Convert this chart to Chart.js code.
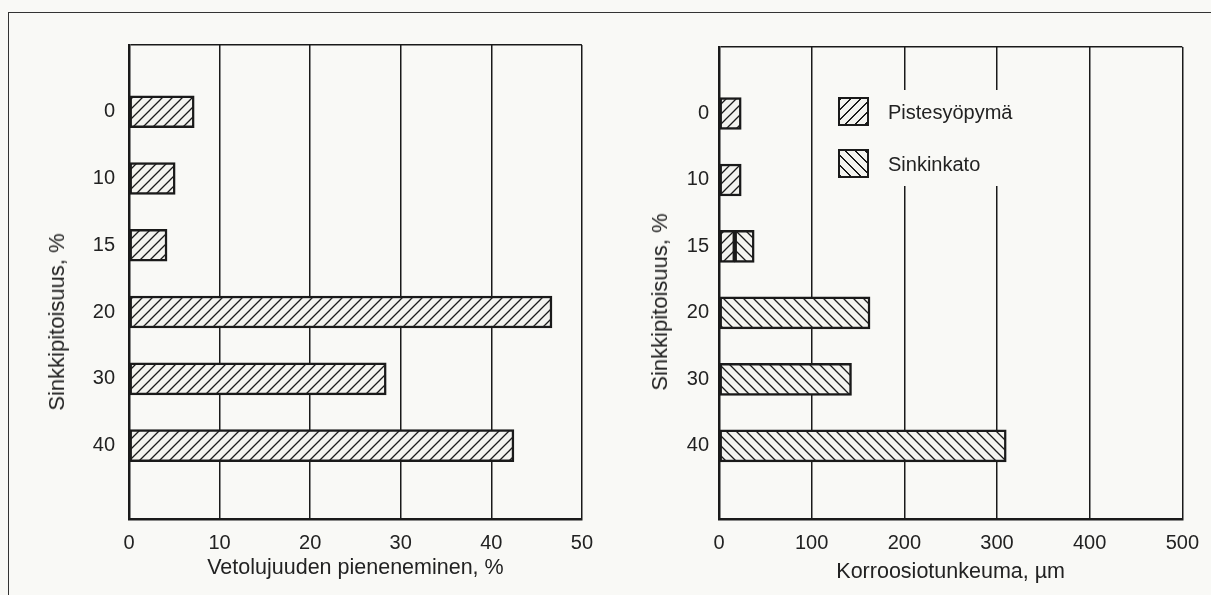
<!DOCTYPE html>
<html>
<head>
<meta charset="utf-8">
<script src="https://cdn.jsdelivr.net/npm/chart.js@4/dist/chart.umd.min.js"></script>
<style>
	html, body { margin: 0; padding: 0; background: #f9f9f6; }
	body { width: 1211px; height: 595px; position: relative; overflow: hidden;
		font-family: "Liberation Sans", Arial, Helvetica, sans-serif; color: #222; }
	#frame { position: absolute; left: 8px; top: 12px; width: 1210px; height: 600px;
		border-top: 1.5px solid #333; border-left: 1.5px solid #333; }
	#left_box { position: absolute; left: 0; top: 0; }
	#right_box { position: absolute; left: 605px; top: 0; }
	.ytitle { position: absolute; font-size: 22px; white-space: nowrap;
		transform: translate(-50%, -50%) rotate(-90deg); }
	#legend { position: absolute; left: 823px; top: 90px; width: 176px; height: 96px; background: #f9f9f6; }
	.lg_item { position: absolute; left: 15px; height: 30px; font-size: 20px; line-height: 30px; }
	.lg_box { position: absolute; left: 0; top: 0; width: 27px; height: 25px; border: 2.5px solid #1a1a1a; }
	.lg_text { position: absolute; left: 50px; top: 0; white-space: nowrap; }
</style>
</head>
<body>
<div id="frame"></div>
<div id="left_box"><canvas id="strength_chart" width="605" height="595"></canvas></div>
<div id="right_box"><canvas id="corrosion_chart" width="606" height="595"></canvas></div>
<div class="ytitle" style="left:57px; top:322px;">Sinkkipitoisuus, %</div>
<div class="ytitle" style="left:660px; top:302px;">Sinkkipitoisuus, %</div>
<div id="legend"></div>

<script>
// zinc content categories (top to bottom)
var categories = ['0', '10', '15', '20', '30', '40'];

// left: loss of tensile strength, %
var strength_loss = [7.2, 5.1, 4.2, 46.7, 28.4, 42.5];

// right: corrosion depth, um
var series_names = ['Pistesyöpymä', 'Sinkinkato'];
var pitting = [24, 24, 17, null, null, null];
var zinc_loss = [null, null, 21, 163, 143, 310];

var left_ticks = [0, 10, 20, 30, 40, 50];
var right_ticks = [0, 100, 200, 300, 400, 500];

var ink = '#1a1a1a';
var paper = '#f3f3ef';
var font_family = '"Liberation Sans", Arial, Helvetica, sans-serif';

function hatch(dir){
	var s = 10;
	var c = document.createElement('canvas');
	c.width = s; c.height = s;
	var g = c.getContext('2d');
	g.fillStyle = paper;
	g.fillRect(0, 0, s, s);
	g.strokeStyle = ink;
	g.lineWidth = 1.3;
	g.beginPath();
	if (dir == '/') {
		g.moveTo(0, s); g.lineTo(s, 0);
		g.moveTo(-1, 1); g.lineTo(1, -1);
		g.moveTo(s - 1, s + 1); g.lineTo(s + 1, s - 1);
	} else {
		g.moveTo(0, 0); g.lineTo(s, s);
		g.moveTo(s - 1, -1); g.lineTo(s + 1, 1);
		g.moveTo(-1, s - 1); g.lineTo(1, s + 1);
	}
	g.stroke();
	return g.createPattern(c, 'repeat');
}

function points(values){
	var out = [];
	values.forEach(function(v, i){
		if (v !== null) out.push({x: v, y: i + 1});
	});
	return out;
}

function make_options(max_x, tick_list, title, pad){
	return {
		indexAxis: 'y',
		responsive: false,
		animation: false,
		layout: { padding: { top: pad.top, right: pad.right, left: 0, bottom: 0 } },
		plugins: { legend: { display: false }, tooltip: { enabled: false } },
		scales: {
			x: {
				type: 'linear',
				min: 0,
				max: max_x,
				stacked: true,
				afterBuildTicks: function(scale){
					scale.ticks = tick_list.map(function(v){ return {value: v}; });
				},
				afterFit: function(scale){ scale.height = 76; },
				ticks: { padding: 12, color: '#222', font: { family: font_family, size: 20 } },
				grid: { color: ink, lineWidth: 1.5, drawTicks: false },
				border: { display: true, color: ink, width: 2.5 },
				title: {
					display: true,
					text: title,
					color: '#222',
					font: { family: font_family, size: 21.5 },
					padding: { top: 0, bottom: pad.title }
				}
			},
			y: {
				type: 'linear',
				reverse: true,
				offset: false,
				min: 0,
				max: 7.1,
				stacked: true,
				afterBuildTicks: function(scale){
					var t = [{value: 0}];
					categories.forEach(function(c, i){ t.push({value: i + 1}); });
					scale.ticks = t;
				},
				afterFit: function(scale){ scale.width = pad.left; },
				ticks: {
					padding: pad.ytick,
					color: '#222',
					font: { family: font_family, size: 20 },
					callback: function(v){ return v > 0 ? categories[v - 1] : ''; }
				},
				grid: {
					offset: false,
					drawTicks: false,
					lineWidth: 1.5,
					color: function(ctx){
						return (ctx.tick && ctx.tick.value === 0) ? ink : 'rgba(0,0,0,0)';
					}
				},
				border: { display: true, color: ink, width: 2.5 }
			}
		}
	};
}

function load_strength_chart(){
	var ctx = document.getElementById('strength_chart');
	var data = {
		datasets: [{
			label: 'Vetolujuuden pieneneminen',
			data: points(strength_loss),
			backgroundColor: hatch('/'),
			borderColor: ink,
			borderWidth: 2.5,
			borderSkipped: false,
			barThickness: 32
		}]
	};
	new Chart(ctx, {
		type: 'bar',
		data: data,
		options: make_options(50, left_ticks, 'Vetolujuuden pieneneminen, %',
			{ top: 45, right: 23, left: 129, ytick: 14, title: 14 })
	});
}

function load_corrosion_chart(){
	var ctx = document.getElementById('corrosion_chart');
	var patterns = [hatch('/'), hatch('\\')];
	var data = {
		datasets: [pitting, zinc_loss].map(function(vals, i){
			return {
				label: series_names[i],
				data: points(vals),
				backgroundColor: patterns[i],
				borderColor: ink,
				borderWidth: 2.5,
				borderSkipped: false,
				barThickness: 32
			};
		})
	};
	var chart = new Chart(ctx, {
		type: 'bar',
		data: data,
		options: make_options(500, right_ticks, 'Korroosiotunkeuma, \u00b5m',
			{ top: 47, right: 22, left: 114, ytick: 10, title: 10 })
	});

	// legend built from the dataset labels
	var css_hatch = [
		'repeating-linear-gradient(135deg, #1a1a1a 0 1.3px, #f3f3ef 1.3px 7px)',
		'repeating-linear-gradient(45deg, #1a1a1a 0 1.3px, #f3f3ef 1.3px 7px)'
	];
	var html = '';
	chart.data.datasets.forEach(function(ds, i){
		html += '<div class="lg_item" style="top:' + (7 + i * 52) + 'px;">' +
			'<div class="lg_box" style="background:' + css_hatch[i] + ';"></div>' +
			'<div class="lg_text">' + ds.label + '</div></div>';
	});
	document.getElementById('legend').innerHTML = html;
}

load_strength_chart();
load_corrosion_chart();
</script>
</body>
</html>
